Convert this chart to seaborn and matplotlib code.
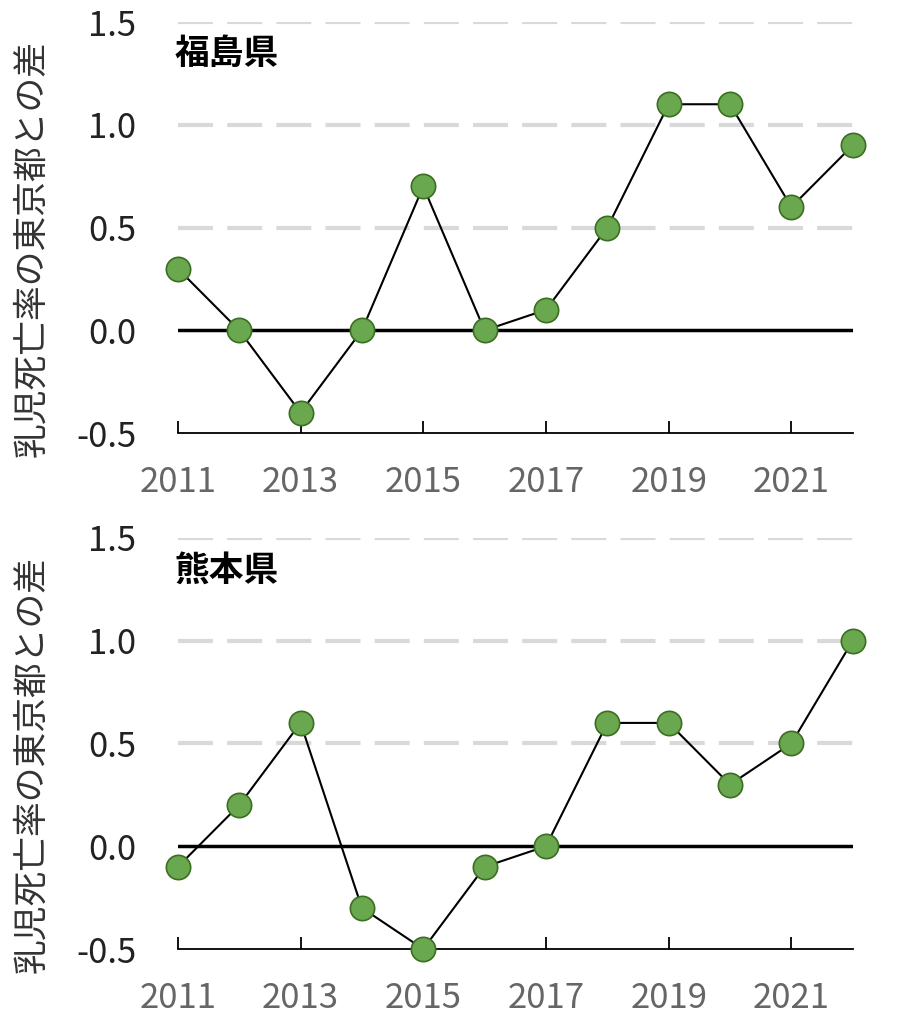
import pandas as pd
import matplotlib
matplotlib.use('Agg')
import matplotlib.pyplot as plt
import seaborn as sns

# data
years = list(range(2011, 2023))
fukushima = [0.3, 0.0, -0.4, 0.0, 0.7, 0.0, 0.1, 0.5, 1.1, 1.1, 0.6, 0.9]
kumamoto = [-0.1, 0.2, 0.6, -0.3, -0.5, -0.1, 0.0, 0.6, 0.6, 0.3, 0.5, 1.0]
panel_titles = ['福島県', '熊本県']
ylabel = '乳児死亡率の東京都との差'
xticks = [2011, 2013, 2015, 2017, 2019, 2021]
yticks = [-0.5, 0.0, 0.5, 1.0, 1.5]

sns.set_theme(style='white')
plt.rcParams['font.family'] = ['Noto Sans CJK JP', 'DejaVu Sans']

fig = plt.figure(figsize=(9.12, 10.24), dpi=100)
ax1 = fig.add_axes([0.195, 0.577, 0.74, 0.4015])
ax2 = fig.add_axes([0.195, 0.0732, 0.74, 0.4015])

for ax, vals, title in zip([ax1, ax2], [fukushima, kumamoto], panel_titles):
    df = pd.DataFrame({'year': years, 'value': vals})
    for y in [0.5, 1.0, 1.5]:
        ax.axhline(y, color='#d9d9d9', lw=3, dashes=(8.4, 3.4), zorder=0)
    ax.axhline(0, color='black', lw=2.5, zorder=1)
    sns.lineplot(data=df, x='year', y='value', ax=ax, color='black', lw=1.5,
                 marker='o', markersize=17.5, markerfacecolor='#6aa84f',
                 markeredgecolor='#3b6e22', markeredgewidth=1.2, clip_on=False,
                 zorder=3)
    ax.set_xlim(2011, 2022)
    ax.set_ylim(-0.5, 1.5)
    ax.set_xticks(xticks)
    ax.set_yticks(yticks)
    ax.set_yticklabels([f'{v:.1f}' for v in yticks])
    ax.tick_params(axis='x', direction='in', length=9, width=1.3, color='black',
                   labelsize=25, labelcolor='#666666', pad=23, bottom=True)
    ax.tick_params(axis='y', length=0, labelsize=25, labelcolor='#222222', pad=30)
    for s in ['top', 'right', 'left']:
        ax.spines[s].set_visible(False)
    ax.spines['bottom'].set_color('black')
    ax.spines['bottom'].set_linewidth(1.3)
    ax.set_xlabel('')
    ax.set_ylabel(ylabel, fontsize=25, color='#333333')
    ax.yaxis.set_label_coords(-0.19, 0.45)
    ax.text(-0.005, 0.965, title, transform=ax.transAxes, fontsize=25,
            fontweight='bold', color='black', va='top')

fig.savefig('out.png', dpi=100)
